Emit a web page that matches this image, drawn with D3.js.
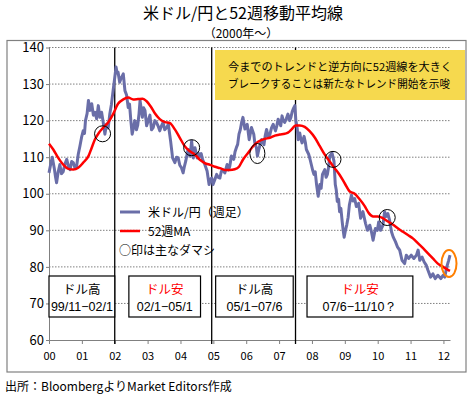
<!DOCTYPE html>
<html>
<head>
<meta charset="utf-8">
<script src="https://cdn.jsdelivr.net/npm/d3@7"></script>
<style>
  body { margin: 0; background: #fff; }
  svg { display: block; }
  text { font-family: "Noto Sans CJK JP", sans-serif; fill: #000; }
</style>
</head>
<body>
<svg id="chart" width="473" height="396"></svg>
<script>
// ---- data ----
const yearTicks = [2000, 2001, 2002, 2003, 2004, 2005, 2006, 2007, 2008, 2009, 2010, 2011, 2012];
const yearLabels = ['00', '01', '02', '03', '04', '05', '06', '07', '08', '09', '10', '11', '12'];
const valueTicks = [60, 70, 80, 90, 100, 110, 120, 130, 140];

// weekly USD/JPY close, [decimal year, yen]
const usdjpy = [
  [2000.00, 105.7], [2000.05, 108.0], [2000.10, 110.0], [2000.16, 107.0], [2000.20, 104.5], [2000.23, 103.0],
  [2000.28, 106.0], [2000.33, 108.0], [2000.38, 105.5], [2000.43, 106.0], [2000.48, 108.0], [2000.54, 109.4],
  [2000.59, 107.5], [2000.64, 106.6], [2000.69, 108.8], [2000.74, 108.5], [2000.79, 107.0], [2000.84, 107.5],
  [2000.89, 110.8], [2000.94, 113.0], [2000.99, 115.4], [2001.04, 117.2], [2001.08, 116.5], [2001.11, 120.0],
  [2001.16, 122.0], [2001.20, 125.5], [2001.25, 122.8], [2001.30, 124.6], [2001.35, 121.5], [2001.40, 122.3],
  [2001.45, 120.5], [2001.50, 124.1], [2001.55, 120.9], [2001.60, 122.3], [2001.65, 119.5], [2001.70, 116.3],
  [2001.75, 119.0], [2001.80, 118.0], [2001.85, 121.8], [2001.90, 124.5], [2001.95, 128.2], [2001.99, 131.0],
  [2002.04, 134.7], [2002.07, 133.0], [2002.10, 133.3], [2002.15, 130.5], [2002.19, 131.5], [2002.26, 132.8],
  [2002.31, 128.2], [2002.36, 127.0], [2002.41, 123.6], [2002.45, 124.5], [2002.49, 120.0], [2002.53, 116.3],
  [2002.57, 118.0], [2002.61, 120.0], [2002.66, 117.5], [2002.70, 118.8], [2002.74, 122.0], [2002.77, 125.5],
  [2002.81, 123.0], [2002.84, 120.9], [2002.88, 123.5], [2002.92, 122.8], [2002.97, 118.6], [2003.02, 120.0],
  [2003.07, 121.5], [2003.12, 117.5], [2003.17, 118.1], [2003.22, 120.0], [2003.27, 119.5], [2003.32, 118.5],
  [2003.37, 117.2], [2003.42, 118.5], [2003.47, 119.5], [2003.52, 117.5], [2003.58, 118.1], [2003.63, 119.0],
  [2003.70, 114.4], [2003.76, 109.8], [2003.83, 108.5], [2003.88, 110.0], [2003.93, 109.8], [2003.98, 107.8],
  [2004.03, 107.1], [2004.08, 105.7], [2004.12, 107.5], [2004.16, 108.9], [2004.23, 112.1], [2004.29, 110.3],
  [2004.34, 114.4], [2004.39, 109.8], [2004.44, 112.6], [2004.51, 109.8], [2004.55, 111.0], [2004.59, 110.3],
  [2004.63, 111.0], [2004.67, 109.4], [2004.74, 108.0], [2004.81, 106.2], [2004.87, 102.5], [2004.91, 104.0],
  [2004.95, 104.3], [2004.99, 102.5], [2005.05, 104.0], [2005.10, 105.3], [2005.15, 104.5], [2005.20, 104.3],
  [2005.24, 106.0], [2005.28, 106.6], [2005.35, 105.7], [2005.42, 108.0], [2005.46, 106.5], [2005.50, 107.5],
  [2005.55, 110.3], [2005.62, 109.4], [2005.66, 111.5], [2005.70, 112.6], [2005.74, 113.5], [2005.78, 116.3],
  [2005.82, 117.5], [2005.86, 119.5], [2005.90, 120.9], [2005.96, 117.7], [2006.03, 119.0], [2006.09, 114.8],
  [2006.16, 118.1], [2006.23, 116.3], [2006.26, 114.0], [2006.31, 112.6], [2006.34, 110.3], [2006.38, 112.0],
  [2006.41, 113.0], [2006.47, 114.8], [2006.54, 113.4], [2006.58, 116.0], [2006.62, 117.6], [2006.67, 115.5],
  [2006.72, 116.2], [2006.77, 118.0], [2006.82, 119.0], [2006.89, 117.2], [2006.93, 118.5], [2006.97, 120.4],
  [2007.01, 119.5], [2007.05, 118.6], [2007.09, 121.3], [2007.13, 120.0], [2007.17, 119.5], [2007.22, 120.5],
  [2007.27, 121.8], [2007.32, 120.0], [2007.36, 120.9], [2007.40, 122.5], [2007.43, 123.2], [2007.48, 124.1],
  [2007.51, 120.0], [2007.55, 118.0], [2007.58, 114.8], [2007.63, 116.6], [2007.66, 115.0], [2007.70, 113.9],
  [2007.76, 115.7], [2007.80, 114.0], [2007.83, 112.1], [2007.90, 110.8], [2007.94, 109.5], [2007.98, 108.0],
  [2008.02, 106.5], [2008.06, 105.3], [2008.10, 106.0], [2008.14, 102.5], [2008.19, 99.3], [2008.24, 102.5],
  [2008.28, 101.5], [2008.32, 105.3], [2008.39, 106.6], [2008.43, 104.5], [2008.47, 105.3], [2008.51, 107.5],
  [2008.54, 110.3], [2008.61, 111.2], [2008.64, 110.0], [2008.67, 108.9], [2008.71, 102.5], [2008.74, 101.0],
  [2008.77, 97.9], [2008.81, 98.5], [2008.84, 95.1], [2008.88, 96.0], [2008.92, 92.4], [2008.95, 90.0],
  [2008.98, 88.1], [2009.02, 90.0], [2009.06, 91.5], [2009.10, 93.5], [2009.14, 97.0], [2009.20, 99.6],
  [2009.25, 98.0], [2009.30, 98.7], [2009.35, 96.5], [2009.42, 97.4], [2009.48, 93.3], [2009.55, 95.1],
  [2009.63, 91.9], [2009.69, 90.0], [2009.76, 91.4], [2009.81, 89.6], [2009.86, 87.3], [2009.93, 90.5],
  [2009.99, 90.0], [2010.03, 92.3], [2010.09, 90.0], [2010.16, 91.4], [2010.21, 95.1], [2010.26, 93.8],
  [2010.31, 94.6], [2010.36, 92.8], [2010.42, 89.6], [2010.47, 88.2], [2010.54, 86.9], [2010.60, 85.5],
  [2010.67, 84.6], [2010.74, 81.8], [2010.82, 80.9], [2010.87, 83.2], [2010.94, 82.3], [2011.02, 83.2],
  [2011.10, 82.3], [2011.18, 83.2], [2011.23, 84.6], [2011.28, 81.8], [2011.35, 82.7], [2011.41, 81.4],
  [2011.48, 80.4], [2011.53, 79.1], [2011.61, 77.2], [2011.68, 78.1], [2011.75, 76.8], [2011.83, 77.7],
  [2011.92, 76.8], [2011.99, 77.7], [2012.04, 77.2], [2012.10, 79.9], [2012.16, 81.8], [2012.20, 83.2]
];

// 52-week moving average
const ma52 = [
  [2000.00, 113.7], [2000.13, 112.1], [2000.28, 109.8], [2000.43, 108.0], [2000.59, 106.8], [2000.74, 106.6],
  [2000.89, 107.1], [2001.04, 108.5], [2001.20, 110.3], [2001.30, 112.6], [2001.40, 114.9], [2001.52, 116.7],
  [2001.65, 118.1], [2001.80, 119.5], [2001.95, 121.8], [2002.10, 124.6], [2002.26, 125.8], [2002.41, 126.3],
  [2002.56, 125.8], [2002.71, 125.9], [2002.85, 126.0], [2002.97, 125.3], [2003.10, 123.8], [2003.22, 122.0],
  [2003.37, 120.4], [2003.53, 119.6], [2003.68, 119.3], [2003.83, 117.6], [2003.98, 115.3], [2004.13, 113.0],
  [2004.29, 111.6], [2004.44, 110.7], [2004.59, 109.3], [2004.74, 108.4], [2004.90, 107.9], [2005.05, 107.4],
  [2005.20, 107.0], [2005.35, 106.5], [2005.50, 106.5], [2005.65, 106.7], [2005.78, 107.4], [2005.90, 109.3],
  [2006.06, 111.2], [2006.21, 113.0], [2006.36, 114.2], [2006.56, 115.0], [2006.72, 115.3], [2006.87, 115.9],
  [2007.02, 116.2], [2007.17, 116.4], [2007.27, 116.7], [2007.38, 117.6], [2007.50, 118.7], [2007.63, 118.7],
  [2007.78, 118.3], [2007.93, 117.1], [2008.09, 115.3], [2008.24, 113.0], [2008.39, 110.7], [2008.54, 108.8],
  [2008.69, 107.0], [2008.84, 105.2], [2009.00, 102.8], [2009.15, 100.6], [2009.30, 100.0], [2009.45, 98.5],
  [2009.60, 96.7], [2009.73, 94.7], [2009.86, 93.8], [2010.01, 93.8], [2010.16, 93.3], [2010.31, 92.4],
  [2010.47, 91.5], [2010.62, 90.5], [2010.77, 89.6], [2010.92, 88.7], [2011.07, 87.8], [2011.23, 86.4],
  [2011.38, 85.1], [2011.53, 83.7], [2011.68, 82.3], [2011.83, 80.9], [2011.99, 80.0], [2012.14, 79.2],
  [2012.20, 78.9]
];

// trend change dates (vertical lines) and false breaks (circles)
const trendBreaks = [2002.0, 2004.95, 2007.5];
const falseBreaks = [[2001.63, 116.4], [2004.34, 112.6], [2006.34, 111.0], [2008.64, 109.4], [2010.29, 93.5]];
const latestBreak = [2012.17, 80.9];

const regimeNames = ['ドル高', 'ドル安', 'ドル高', 'ドル安'];
const regimePeriods = ['99/11−02/1', '02/1−05/1', '05/1−07/6', '07/6−11/10？'];
const regimeSpans = [[2000.0, 2002.0], [2002.43, 2004.61], [2005.07, 2007.43], [2007.85, 2011.07]];

const noteLines = ['今までのトレンドと逆方向に52週線を大きく', 'ブレークすることは新たなトレンド開始を示唆'];

// ---- layout ----
const svg = d3.select('#chart');
const plotLeft = 49, plotRight = 450, plotTop = 47.5, plotBottom = 340;

const x = d3.scaleLinear().domain([2000, 2012.2]).range([plotLeft, plotRight]);
const y = d3.scaleLinear().domain([60, 140]).range([plotBottom, plotTop]);

svg.append('rect').attr('width', 473).attr('height', 396).attr('fill', '#fff');

// title
svg.append('text').attr('x', 243).attr('y', 19).attr('text-anchor', 'middle')
  .style('font-size', '16px').text('米ドル/円と52週移動平均線');
svg.append('text').attr('x', 241).attr('y', 38).attr('text-anchor', 'middle')
  .style('font-size', '12px').text('（2000年～）');

// outer frame
svg.append('rect').attr('x', 7).attr('y', 40.5).attr('width', 459).attr('height', 331.5)
  .attr('fill', 'none').attr('stroke', '#808080').attr('stroke-width', 1.2);

// gridlines
svg.append('g').selectAll('line').data(valueTicks.filter(v => v > 60)).join('line')
  .attr('x1', plotLeft).attr('x2', plotRight)
  .attr('y1', d => y(d)).attr('y2', d => y(d))
  .attr('stroke', '#808080').attr('stroke-width', 1).attr('stroke-dasharray', '1.5,1.5');

// y axis
const yAxis = svg.append('g').attr('transform', `translate(${plotLeft},0)`)
  .call(d3.axisLeft(y).tickValues(valueTicks).tickSize(3).tickPadding(2).tickSizeOuter(0));
yAxis.select('.domain').attr('stroke', '#808080');
yAxis.selectAll('.tick line').attr('stroke', '#808080');
yAxis.selectAll('text').style('font-size', '13px').style('font-family', '"Noto Sans CJK JP", sans-serif');

// x axis
const xAxis = svg.append('g').attr('transform', `translate(0,${plotBottom})`)
  .call(d3.axisBottom(x).tickValues(yearTicks).tickFormat((d, i) => yearLabels[i])
    .tickSize(4).tickPadding(8).tickSizeOuter(0));
xAxis.select('.domain').attr('stroke', '#808080');
xAxis.selectAll('.tick line').attr('stroke', '#808080');
xAxis.selectAll('text').style('font-size', '11px').style('font-family', '"Noto Sans CJK JP", sans-serif');

// trend change lines
svg.append('g').selectAll('line').data(trendBreaks).join('line')
  .attr('x1', d => x(d)).attr('x2', d => x(d))
  .attr('y1', plotTop).attr('y2', plotBottom + 4)
  .attr('stroke', '#000').attr('stroke-width', 1.3);

// note box
svg.append('rect').attr('x', 215).attr('y', 50).attr('width', 250).attr('height', 50).attr('fill', '#F6D94E');
const note = svg.append('text').style('font-size', '11px');
note.selectAll('tspan').data(noteLines).join('tspan')
  .attr('x', 228).attr('y', (d, i) => 71 + i * 17)
  .attr('textLength', (d, i) => i === 0 ? 224 : 222).attr('lengthAdjust', 'spacingAndGlyphs')
  .text(d => d);

// series
const line = d3.line().x(d => x(d[0])).y(d => y(d[1]));
svg.append('path').datum(usdjpy).attr('d', line)
  .attr('fill', 'none').attr('stroke', '#6A6EA8').attr('stroke-width', 3).attr('stroke-linejoin', 'round');
svg.append('path').datum(ma52).attr('d', line.curve(d3.curveMonotoneX))
  .attr('fill', 'none').attr('stroke', '#FF0000').attr('stroke-width', 2.5);

// false-break circles
svg.append('g').selectAll('ellipse').data(falseBreaks).join('ellipse')
  .attr('cx', d => x(d[0])).attr('cy', d => y(d[1]))
  .attr('rx', (d, i) => i === 2 ? 7.5 : 8).attr('ry', (d, i) => i === 2 ? 10 : 8)
  .attr('fill', 'none').attr('stroke', '#000').attr('stroke-width', 1);
svg.append('ellipse').attr('cx', x(latestBreak[0])).attr('cy', y(latestBreak[1]))
  .attr('rx', 7.5).attr('ry', 13.5)
  .attr('fill', 'none').attr('stroke', '#FF7F00').attr('stroke-width', 2);

// regime boxes
const boxes = svg.append('g').selectAll('g').data(regimeSpans).join('g');
boxes.append('rect')
  .attr('x', d => x(d[0])).attr('width', d => x(d[1]) - x(d[0]))
  .attr('y', 276).attr('height', 41)
  .attr('fill', '#fff').attr('stroke', '#000').attr('stroke-width', 1.2);
boxes.append('text')
  .attr('x', d => (x(d[0]) + x(d[1])) / 2).attr('y', 294)
  .attr('text-anchor', 'middle').style('font-size', '12.5px')
  .style('fill', (d, i) => regimeNames[i] === 'ドル安' ? '#FF0000' : '#000')
  .text((d, i) => regimeNames[i]);
boxes.append('text')
  .attr('x', d => (x(d[0]) + x(d[1])) / 2).attr('y', 311)
  .attr('text-anchor', 'middle')
  .style('font-size', '12.5px').style('font-family', '"Liberation Sans", Arial, sans-serif')
  .text((d, i) => regimePeriods[i]);

// legend
const legend = svg.append('g');
legend.append('line').attr('x1', 120).attr('x2', 140).attr('y1', 212).attr('y2', 212)
  .attr('stroke', '#6A6EA8').attr('stroke-width', 3);
legend.append('line').attr('x1', 120).attr('x2', 140).attr('y1', 231).attr('y2', 231)
  .attr('stroke', '#FF0000').attr('stroke-width', 2.5);
const legendText = legend.append('text').style('font-size', '12px');
legendText.append('tspan').attr('x', 148).attr('y', 216.5).text('米ドル/円（週足）');
legendText.append('tspan').attr('x', 148).attr('y', 235.5).text('52週MA');
legendText.append('tspan').attr('x', 119).attr('y', 255).text('○印は主なダマシ');

// source
svg.append('text').attr('x', 5).attr('y', 391).style('font-size', '12px')
  .text('出所：BloombergよりMarket Editors作成');
</script>
</body>
</html>
